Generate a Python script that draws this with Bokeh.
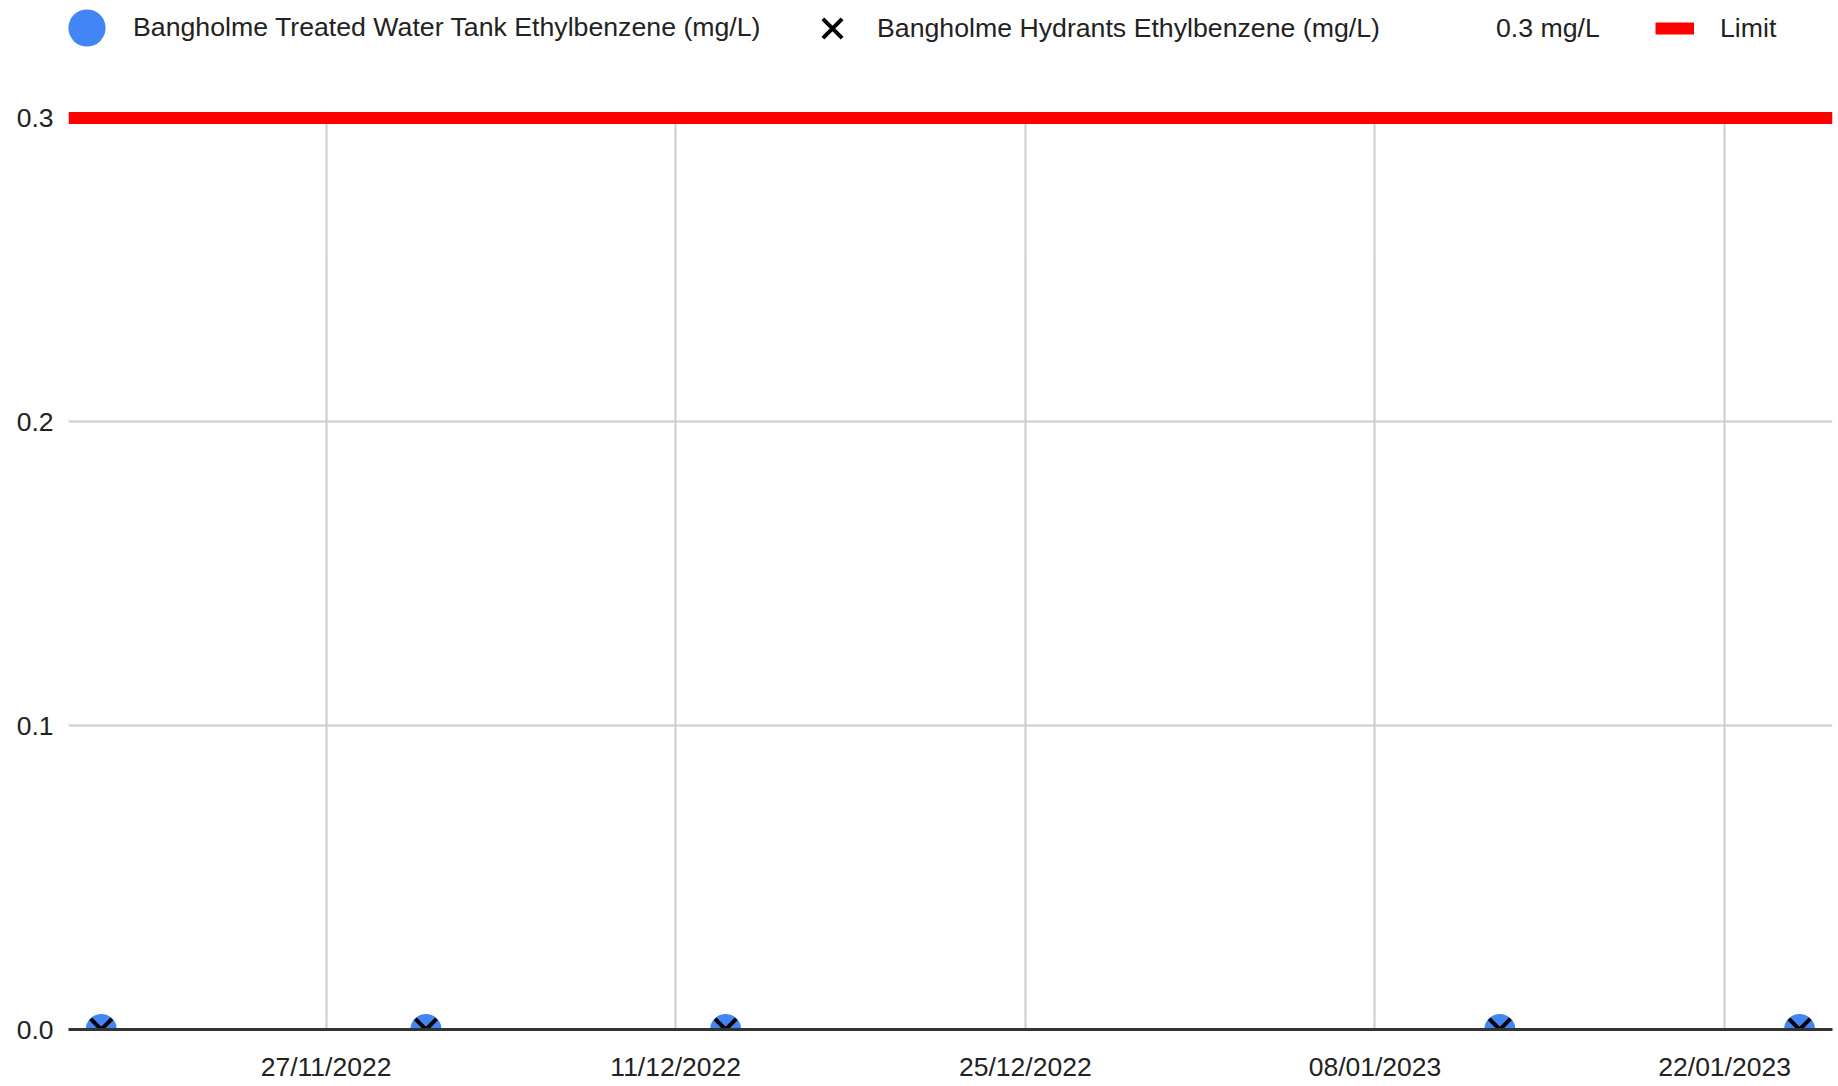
from datetime import datetime
from bokeh.plotting import figure
from bokeh.layouts import column
from bokeh.models import (Legend, LegendItem, FixedTicker, NumeralTickFormatter,
                          DatetimeTickFormatter, Range1d)
from bokeh.embed import file_html
from bokeh.resources import INLINE

# ---- data ----
sample_dates = ["2022-11-18", "2022-12-01", "2022-12-13", "2023-01-13", "2023-01-25"]
tank_values = [0.0, 0.0, 0.0, 0.0, 0.0]
hydrant_values = [0.0, 0.0, 0.0, 0.0, 0.0]
limit_value = 0.3
x_tick_dates = ["2022-11-27", "2022-12-11", "2022-12-25", "2023-01-08", "2023-01-22"]
y_ticks = [0.0, 0.1, 0.2, 0.3]
tank_label = "Bangholme Treated Water Tank Ethylbenzene (mg/L)"
hydrant_label = "Bangholme Hydrants Ethylbenzene (mg/L)"
limit_text_label = "0.3 mg/L"
limit_label = "Limit"

FONT = "Liberation Sans"
FSIZE = "26.5px"
LFSIZE = "26.7px"
TEXT = "#222222"
BLUE = "#4285f4"
RED = "#ff0000"

def d(s):
    return datetime.strptime(s, "%Y-%m-%d")

x = [d(s) for s in sample_dates]
x_start = datetime(2022, 11, 16, 16, 30)
x_end = datetime(2023, 1, 26, 7, 40)
limit_x = [x_start, x_end]
limit_y = [limit_value, limit_value]

# ---------------- main chart ----------------
p = figure(width=1838, height=1030, output_backend="svg", toolbar_location=None,
           x_axis_type="datetime",
           x_range=Range1d(x_start, x_end), y_range=Range1d(0, 0.30214),
           min_border_left=68, min_border_right=6, min_border_top=55, min_border_bottom=57)
p.outline_line_color = None
p.background_fill_color = "white"

tick_ms = [d(s).timestamp() * 1000 for s in x_tick_dates]

p.xgrid.ticker = FixedTicker(ticks=tick_ms)
p.xgrid.grid_line_color = "#cccccc"
p.xgrid.grid_line_width = 2
p.ygrid.ticker = FixedTicker(ticks=y_ticks)
p.ygrid.grid_line_color = "#cccccc"
p.ygrid.grid_line_width = 2

xa = p.xaxis[0]
xa.ticker = FixedTicker(ticks=tick_ms)
fmt = "%d/%m/%Y"
xa.formatter = DatetimeTickFormatter(milliseconds=fmt, seconds=fmt, minsec=fmt, minutes=fmt,
                                     hourmin=fmt, hours=fmt, days=fmt, months=fmt, years=fmt)
xa.axis_line_color = "#333333"
xa.axis_line_width = 3
xa.major_tick_out = 0
xa.major_tick_in = 0
xa.minor_tick_out = 0
xa.major_tick_line_color = None
xa.minor_tick_line_color = None
xa.major_label_standoff = 22
xa.major_label_text_font = FONT
xa.major_label_text_font_size = FSIZE
xa.major_label_text_color = TEXT

ya = p.yaxis[0]
ya.ticker = FixedTicker(ticks=y_ticks)
ya.formatter = NumeralTickFormatter(format="0.0")
ya.axis_line_color = None
ya.major_tick_out = 0
ya.major_tick_in = 0
ya.minor_tick_out = 0
ya.major_tick_line_color = None
ya.minor_tick_line_color = None
ya.major_label_standoff = 15
ya.major_label_text_font = FONT
ya.major_label_text_font_size = FSIZE
ya.major_label_text_color = TEXT

def draw_series(fig):
    r_limit = fig.line(limit_x, limit_y, line_color=RED, line_width=12)
    r_limit_text = fig.line(limit_x, limit_y, line_alpha=0)
    r_tank = fig.scatter(x, tank_values, marker="circle", size=31, fill_color=BLUE, line_color=None)
    r_hyd = fig.scatter(x, hydrant_values, marker="x", size=30, line_color="black", line_width=4)
    return r_tank, r_hyd, r_limit_text, r_limit

draw_series(p)

# ---------------- legend strip ----------------
lg = figure(width=1838, height=56, output_backend="svg", toolbar_location=None,
            x_range=Range1d(0, 1764), y_range=Range1d(0, 56),
            x_axis_location=None, y_axis_location=None,
            min_border_left=68, min_border_right=6, min_border_top=0, min_border_bottom=0)
lg.outline_line_color = None
lg.grid.visible = False
lt, lh, llt, ll = draw_series(lg)   # same series, outside this strip's view; used for legend glyphs

def add_legend(label, renderer, vx, vy, gw, gh, standoff):
    leg = Legend(items=[LegendItem(label=label, renderers=[renderer])],
                 location=(vx, vy), orientation="horizontal",
                 glyph_width=gw, glyph_height=gh, label_standoff=standoff,
                 padding=0, margin=0, spacing=0,
                 border_line_color=None, background_fill_alpha=0,
                 label_text_font=FONT, label_text_font_size=LFSIZE,
                 label_text_color=TEXT, label_height=gh)
    lg.add_layout(leg)

add_legend(tank_label, lt, -28, -18, 93, 93, -15)
add_legend(hydrant_label, lh, 730, -6, 68, 68, 11)
add_legend(limit_text_label, llt, 1388, 8, 40, 40, 0)
add_legend(limit_label, ll, 1587, 8, 39, 40, 26)

layout = column(lg, p, spacing=0)
open("out.html", "w").write(file_html(layout, INLINE))
